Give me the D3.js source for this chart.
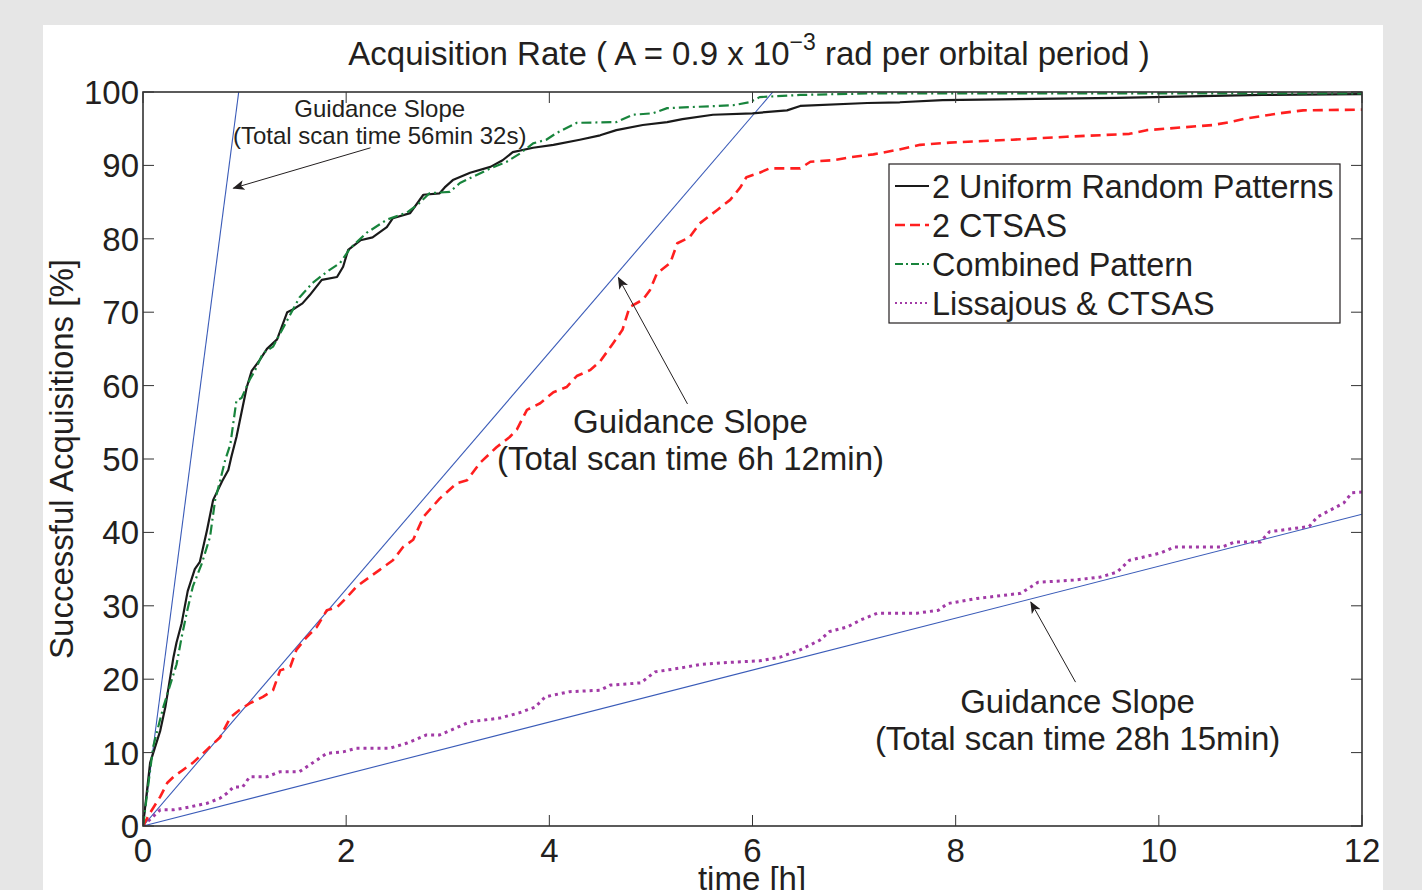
<!DOCTYPE html>
<html><head><meta charset="utf-8">
<script src="https://cdn.jsdelivr.net/npm/d3@7"></script>
<style>
html,body{margin:0;padding:0;background:#e6e6e6;}
svg{display:block;}
text{font-family:"Liberation Sans",Arial,Helvetica,sans-serif;fill:#231f20;}
</style></head><body>
<script>
// ---- data (time [h], successful acquisitions [%]) ----
const uniformT = [0,0.07,0.17,0.22,0.3,0.33,0.38,0.44,0.51,0.56,0.63,0.69,0.78,0.84,0.87,0.92,0.95,1.02,1.07,1.15,1.22,1.32,1.42,1.48,1.57,1.64,1.76,1.91,1.97,2.02,2.14,2.26,2.4,2.46,2.63,2.76,2.92,2.97,3.05,3.22,3.42,3.54,3.64,3.84,4.04,4.3,4.5,4.66,4.92,5.16,5.31,5.61,6.0,6.34,6.47,7.13,7.45,7.87,9.59,11.02,12];
const uniformV = [0,8.6,13,16.2,23,25,27.6,32,35,36,40.3,44.4,47,48.5,50.3,53,55,59.7,62,63.5,65,66.3,70,70.4,71.2,72.3,74.4,74.8,76.2,78.5,79.8,80.2,81.6,82.8,83.5,86,86.2,87,88,89,89.8,90.7,91.8,92.4,92.8,93.5,94.1,94.8,95.5,95.9,96.3,96.9,97.1,97.5,98.1,98.5,98.6,98.9,99.2,99.6,99.7];

const ctsasT = [0,0.07,0.17,0.24,0.3,0.39,0.49,0.63,0.76,0.86,0.95,1.05,1.18,1.28,1.35,1.45,1.51,1.61,1.71,1.81,1.91,2.01,2.1,2.23,2.33,2.46,2.56,2.66,2.76,2.92,3.09,3.19,3.32,3.48,3.61,3.68,3.78,3.91,4.04,4.17,4.27,4.4,4.5,4.63,4.72,4.79,4.92,4.99,5.06,5.19,5.26,5.38,5.48,5.65,5.78,5.88,5.94,6.07,6.17,6.47,6.57,6.79,6.96,7.19,7.42,7.65,7.94,8.56,9.09,9.71,9.88,10.53,10.7,10.86,11.19,11.42,12];
const ctsasV = [0,1.8,4,5.9,6.7,7.6,8.6,10.4,12.1,14.8,15.8,16.7,17.6,18.5,21.2,21.7,24,25.7,27.1,29.4,29.8,31.2,32.6,33.9,34.9,36.2,38,39,42.1,44.6,46.7,47.1,49.5,51.6,53,54,56.7,57.6,59.1,59.8,61.3,62.1,63.3,65.8,67.6,70.7,71.7,73,75.3,76.7,79.4,80.2,82.1,83.9,85.3,87,88.4,89,89.6,89.6,90.5,90.7,91.1,91.5,92.1,92.8,93.1,93.5,93.9,94.3,94.8,95.5,95.9,96.4,97.1,97.5,97.6];

const combinedT = [0,0.1,0.2,0.33,0.38,0.43,0.49,0.58,0.66,0.71,0.76,0.81,0.86,0.92,0.97,1.05,1.1,1.18,1.28,1.35,1.54,1.67,1.81,1.94,2.04,2.2,2.4,2.6,2.7,2.82,3.02,3.12,3.42,3.58,3.71,3.84,3.97,4.07,4.27,4.66,4.82,5.02,5.16,5.81,5.97,6.07,6.47,7.13,12];
const combinedV = [0,10.8,16.2,22,25.7,29,32.6,35.8,39.4,44.4,47.1,49.9,52,58,58.3,60.8,62,64.4,65.3,67.1,72,74,75.5,76.7,78.7,80.8,82.6,83.6,84.6,86.2,86.4,87.6,89.6,90.5,91.6,93,93.5,94.4,95.8,95.9,96.9,97.1,97.8,98.2,98.6,99.3,99.6,99.8,99.8];

const lissT = [0,0.17,0.3,0.46,0.63,0.76,0.83,0.89,0.98,1.05,1.22,1.35,1.54,1.67,1.81,1.97,2.1,2.43,2.6,2.79,2.92,3.22,3.51,3.7,3.86,3.96,4.2,4.5,4.6,4.9,5.04,5.28,5.48,5.78,6.07,6.27,6.47,6.66,6.76,6.93,7.07,7.23,7.62,7.83,7.92,8.21,8.64,8.81,9.16,9.42,9.59,9.71,10.02,10.15,10.62,10.75,11.0,11.09,11.48,11.56,11.82,11.9,12];
const lissV = [0,2.2,2.2,2.6,3.1,3.8,4.5,5.3,5.3,6.7,6.7,7.4,7.4,8.6,9.9,10.1,10.6,10.6,11.3,12.4,12.4,14.2,14.7,15.4,16.2,17.6,18.3,18.5,19.2,19.5,21,21.5,22,22.3,22.5,23,24,25.3,26.5,27.1,28.1,29,29,29.4,30.3,31,31.7,33.2,33.5,33.9,34.6,36.2,37.2,38,38,38.7,38.7,40.1,40.8,42.1,44,45.4,45.5];

// guidance slopes: total scan time in hours (56min 32s, 6h 12min, 28h 15min)
const guideTotals = [56/60 + 32/3600, 6 + 12/60, 28 + 15/60];

const xTicks = [0,2,4,6,8,10,12];
const yTicks = [0,10,20,30,40,50,60,70,80,90,100];

const seriesNames = ["2 Uniform Random Patterns","2 CTSAS","Combined Pattern","Lissajous & CTSAS"];

// annotations: arrow tail/head and label anchor in data units
const annHeadT = [0.89, 4.68, 8.74];
const annHeadV = [86.9, 74.7, 30.5];
const annTailT = [2.24, 5.36, 9.18];
const annTailV = [92.4, 57.5, 19.6];
const annLabelT = [2.33, 5.39, 9.2];
const annLabelV = [96.6, 53.5, 15.4];
const annLines = [["Guidance Slope","(Total scan time 56min 32s)"],["Guidance Slope","(Total scan time 6h 12min)"],["Guidance Slope","(Total scan time 28h 15min)"]];

// ---- drawing ----
const W = 1422, H = 890;
const svg = d3.select("body").append("svg").attr("width", W).attr("height", H);
svg.append("rect").attr("x",0).attr("y",0).attr("width",W).attr("height",H).attr("fill","#e6e6e6");
svg.append("rect").attr("x",43).attr("y",25).attr("width",1340).attr("height",H-25).attr("fill","#ffffff");

const L = 143, R = 1362, T = 92, B = 826;
const x = d3.scaleLinear().domain([0,12]).range([L,R]);
const y = d3.scaleLinear().domain([0,100]).range([B,T]);

const defs = svg.append("defs");
defs.append("clipPath").attr("id","clip").append("rect").attr("x",L).attr("y",T).attr("width",R-L).attr("height",B-T);
defs.append("marker").attr("id","arrow").attr("viewBox","0 0 12 10").attr("refX",11).attr("refY",5)
  .attr("markerWidth",12).attr("markerHeight",10).attr("markerUnits","userSpaceOnUse").attr("orient","auto")
  .append("path").attr("d","M0,0 L12,5 L0,10 L3,5 Z").attr("fill","#231f20");

const plot = svg.append("g").attr("clip-path","url(#clip)");

// guidance slopes
guideTotals.forEach(Tt => {
  const tEnd = Math.min(12, Tt);
  plot.append("line")
    .attr("x1", x(0)).attr("y1", y(0))
    .attr("x2", x(tEnd)).attr("y2", y(100*tEnd/Tt))
    .attr("stroke","#3a5bb8").attr("stroke-width",1.1);
});

const line = d3.line().x(d=>x(d[0])).y(d=>y(d[1])).curve(d3.curveLinear);
const zip = (a,b)=>a.map((v,i)=>[v,b[i]]);

const styles = [
  {color:"#1a1a1a", width:2.2, dash:null},
  {color:"#ff1f1f", width:2.6, dash:"10,6"},
  {color:"#18843c", width:2.2, dash:"10,4,2,4"},
  {color:"#a13aa6", width:3, dash:"3,4"}
];
const data = [zip(uniformT,uniformV), zip(ctsasT,ctsasV), zip(combinedT,combinedV), zip(lissT,lissV)];
[3,1,0,2].forEach(i=>{
  plot.append("path").datum(data[i]).attr("d",line)
    .attr("fill","none").attr("stroke",styles[i].color).attr("stroke-width",styles[i].width)
    .attr("stroke-dasharray",styles[i].dash).attr("stroke-linejoin","round");
});

// axes box and ticks (inward ticks on all sides)
const axG = svg.append("g");
const tickLen = 11;
const axColor = "#333333";
xTicks.forEach(t=>{
  axG.append("line").attr("x1",x(t)).attr("x2",x(t)).attr("y1",B).attr("y2",B-tickLen).attr("stroke",axColor).attr("stroke-width",1);
  axG.append("line").attr("x1",x(t)).attr("x2",x(t)).attr("y1",T).attr("y2",T+tickLen).attr("stroke",axColor).attr("stroke-width",1);
});
yTicks.forEach(v=>{
  axG.append("line").attr("x1",L).attr("x2",L+tickLen).attr("y1",y(v)).attr("y2",y(v)).attr("stroke",axColor).attr("stroke-width",1);
  axG.append("line").attr("x1",R).attr("x2",R-tickLen).attr("y1",y(v)).attr("y2",y(v)).attr("stroke",axColor).attr("stroke-width",1);
});
axG.append("rect").attr("x",L).attr("y",T).attr("width",R-L).attr("height",B-T).attr("fill","none").attr("stroke",axColor).attr("stroke-width",1.6);

// tick labels
const fs = 33;
svg.append("g").selectAll("text").data(xTicks).join("text")
  .attr("x",d=>x(d)).attr("y",B+36).attr("text-anchor","middle").attr("font-size",fs).text(d=>d);
svg.append("g").selectAll("text").data(yTicks).join("text")
  .attr("x",L-4).attr("y",d=>y(d)+12).attr("text-anchor","end").attr("font-size",fs).text(d=>d);

// axis labels
svg.append("text").attr("x",752).attr("y",890).attr("text-anchor","middle").attr("font-size",fs).text("time [h]");
svg.append("text").attr("transform",`translate(73,${(T+B)/2}) rotate(-90)`).attr("text-anchor","middle").attr("font-size",fs).text("Successful Acquisitions [%]");

// title
const title = svg.append("text").attr("x",749).attr("y",65).attr("text-anchor","middle").attr("font-size",33);
title.append("tspan").text("Acquisition Rate ( A = 0.9 x 10");
title.append("tspan").attr("dy",-15).attr("font-size",23).text("\u22123");
title.append("tspan").attr("dy",15).text(" rad per orbital period )");

// annotations
annLines.forEach((lines,i)=>{
  svg.append("line")
    .attr("x1",x(annTailT[i])).attr("y1",y(annTailV[i]))
    .attr("x2",x(annHeadT[i])).attr("y2",y(annHeadV[i]))
    .attr("stroke","#231f20").attr("stroke-width",1).attr("marker-end","url(#arrow)");
  const small = i===0;
  const f = small ? 24 : 33;
  const gap = small ? 27 : 37;
  const tx = svg.append("text").attr("x",x(annLabelT[i])).attr("y",y(annLabelV[i])).attr("text-anchor","middle").attr("font-size",f);
  lines.forEach((s,k)=>tx.append("tspan").attr("x",x(annLabelT[i])).attr("dy",k===0?0:gap).text(s));
});

// legend
const lg = svg.append("g");
lg.append("rect").attr("x",889).attr("y",164).attr("width",451).attr("height",159).attr("fill","#ffffff").attr("stroke","#231f20").attr("stroke-width",1.2);
seriesNames.forEach((name,i)=>{
  const yy = 186 + i*39;
  lg.append("line").attr("x1",895).attr("x2",929).attr("y1",yy).attr("y2",yy)
    .attr("stroke",styles[i].color).attr("stroke-width",i===3?2:styles[i].width)
    .attr("stroke-dasharray", i===1 ? "10,5" : i===2 ? "8,3,2,3" : i===3 ? "2,3" : null);
  lg.append("text").attr("x",932).attr("y",yy+12).attr("font-size",32.4).text(name);
});
</script>
</body></html>
